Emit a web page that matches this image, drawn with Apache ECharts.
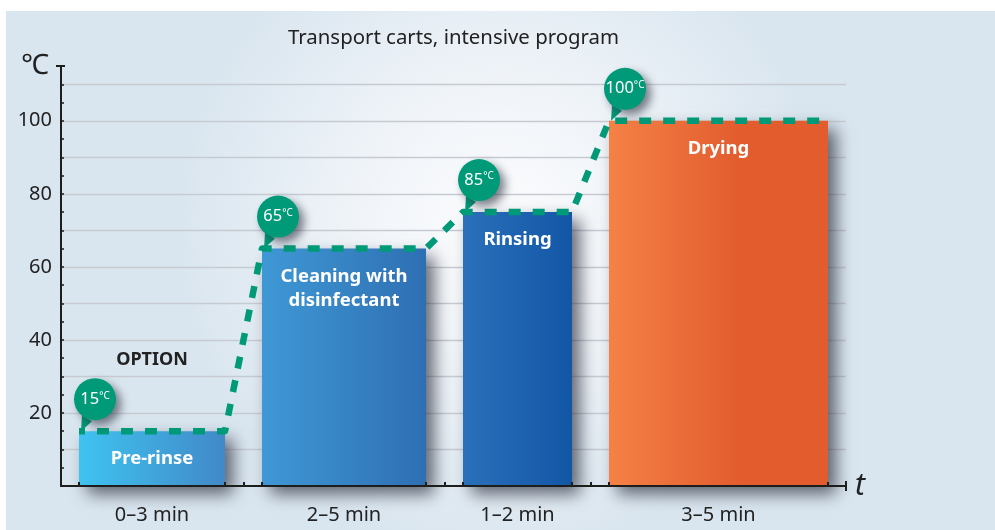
<!DOCTYPE html>
<html><head><meta charset="utf-8">
<style>html,body{margin:0;padding:0;background:#fff}#c{width:995px;height:530px}</style>
<script src="https://cdn.jsdelivr.net/npm/echarts@6/dist/echarts.min.js"></script>
</head><body><div id="c"></div>
<script>
// x positions are in the schematic units of the horizontal axis (its length is not to scale in minutes)
const xAxisMax = 785;
const yAxisMax = 115;
const phaseNames = ['Pre-rinse', 'Cleaning with\ndisinfectant', 'Rinsing', 'Drying'];
const phaseDurations = ['0–3 min', '2–5 min', '1–2 min', '3–5 min'];
const phaseStart = [18, 201, 402, 548];
const phaseEnd = [164, 365, 511, 767];
const phaseTemps = [15, 65, 75, 100];
const bubbleLabels = ['15', '65', '85', '100'];
const yTickLabels = [20, 40, 60, 80, 100];
const yTicks = [0,5,10,15,20,25,30,35,40,45,50,55,60,65,70,75,80,85,90,95,100,105,110];
const xGapTicks = [182.5, 383.5, 529.5];
const optionText = 'OPTION';
const optionAt = [91, 34.5];
const titleText = 'Transport carts, intensive program';

const barGradients = [
  ['#3fc3f0', '#4189c8'], ['#3f98d5', '#2e6fb3'], ['#2b70ba', '#1256a6'], ['#f58146', '#e25c2e']
];
const GREEN = '#009a78';
const FONT = '"Noto Sans", sans-serif';

const linePts = [];
phaseStart.forEach((s, i) => { linePts.push([s, phaseTemps[i]]); linePts.push([phaseEnd[i], phaseTemps[i]]); });
const mids = phaseStart.map((s, i) => (s + phaseEnd[i]) / 2);
const xTicks = phaseStart.concat(phaseEnd, xGapTicks).sort((a, b) => a - b);

const chart = echarts.init(document.getElementById('c'), null, {renderer: 'canvas'});
chart.setOption({
  animation: false,
  graphic: [{
    type: 'rect', z: -10, silent: true,
    shape: {x: 6, y: 11, width: 989, height: 519},
    style: {fill: {type: 'radial', x: 0.5, y: 0.42, r: 0.62, colorStops: [
      {offset: 0, color: '#fbfcfd'}, {offset: 0.35, color: '#f3f6fa'},
      {offset: 0.72, color: '#e5edf4'}, {offset: 1, color: '#dae6ef'}]}}
  }],
  title: {text: titleText, left: 283, top: 23, textStyle: {fontFamily: FONT, fontSize: 20.4, fontWeight: 'normal', color: '#222'}},
  grid: {left: 61, right: 149, top: 66, bottom: 44, containLabel: false},
  xAxis: [{
    type: 'value', min: 0, max: xAxisMax, z: 5,
    splitLine: {show: false},
    axisLine: {show: true, onZero: false, lineStyle: {color: '#1d1d1b', width: 2}},
    axisTick: {show: true, inside: true, length: 4, customValues: xTicks, lineStyle: {color: '#1d1d1b', width: 2}},
    axisLabel: {show: true, customValues: mids, margin: 19, color: '#222', fontFamily: FONT, fontSize: 20,
      formatter: v => phaseDurations[mids.indexOf(v)]},
    name: 't', nameLocation: 'end', nameGap: 9,
    nameTextStyle: {fontFamily: FONT, fontStyle: 'italic', fontSize: 30, color: '#222', verticalAlign: 'middle', padding: [8, 0, 0, 0]}
  }],
  yAxis: [{
    type: 'value', min: 0, max: yAxisMax, interval: 10, z: 0,
    axisLine: {show: false}, axisTick: {show: false}, axisLabel: {show: false},
    splitLine: {show: true, showMaxLine: false, showMinLine: false, lineStyle: {color: '#c6cbd2', width: 1.3}}
  }, {
    type: 'value', min: 0, max: yAxisMax, interval: 10, z: 5, position: 'left',
    splitLine: {show: false},
    axisLine: {show: true, onZero: false, lineStyle: {color: '#1d1d1b', width: 2}},
    axisTick: {show: true, inside: true, length: 3, customValues: yTicks, lineStyle: {color: '#1d1d1b', width: 1.5}},
    axisLabel: {show: true, customValues: yTickLabels, margin: 9, color: '#222', fontFamily: FONT, fontSize: 20},
    name: '℃', nameLocation: 'end', nameGap: 0,
    nameTextStyle: {fontFamily: FONT, fontSize: 28, color: '#222', align: 'right', verticalAlign: 'middle', padding: [0, 12, 10, 0]}
  }],
  series: [{
    type: 'custom', name: 'Phases', z: 2, silent: true, clip: false,
    coordinateSystem: 'cartesian2d', xAxisIndex: 0, yAxisIndex: 0,
    encode: {x: [0, 1], y: 2},
    data: phaseStart.map((s, i) => [s, phaseEnd[i], phaseTemps[i], i]),
    renderItem(params, api) {
      const i = api.value(3);
      const p0 = api.coord([api.value(0), api.value(2)]);
      const p1 = api.coord([api.value(1), 0]);
      const g = barGradients[i];
      return {type: 'group', children: [{
        type: 'rect',
        shape: {x: p0[0], y: p0[1], width: p1[0] - p0[0], height: p1[1] - p0[1]},
        style: {
          fill: {type: 'linear', x: 0, y: 0, x2: 1, y2: 0, colorStops: [{offset: 0, color: g[0]}, {offset: i === 3 ? 0.6 : 1, color: g[1]}, {offset: 1, color: g[1]}]},
          shadowBlur: 16, shadowOffsetX: 8, shadowOffsetY: 8, shadowColor: 'rgba(35,40,55,0.7)'
        }
      }, {
        type: 'text', z2: 5,
        style: {x: (p0[0] + p1[0]) / 2, y: p0[1] + 16, text: phaseNames[i], align: 'center', verticalAlign: 'top',
          fill: '#fff', font: 'bold 18.5px ' + FONT, lineHeight: 24}
      }]};
    }
  }, {
    type: 'line', name: 'Temperature', z: 3, silent: true, xAxisIndex: 0, yAxisIndex: 0,
    data: linePts, symbol: 'none', clip: false,
    lineStyle: {color: GREEN, width: 6.5, type: [12, 12], dashOffset: 6, join: 'round', cap: 'butt'}
  }, {
    type: 'custom', name: 'Bubbles', z: 4, silent: true, clip: false,
    coordinateSystem: 'cartesian2d', xAxisIndex: 0, yAxisIndex: 0,
    encode: {x: 0, y: 1},
    data: phaseStart.map((s, i) => [s, phaseTemps[i], i]),
    renderItem(params, api) {
      const a = api.coord([api.value(0), api.value(1)]);
      const i = api.value(2);
      const cx = a[0] + 16, cy = a[1] - 32;
      return {type: 'group', children: [{
        type: 'polygon',
        shape: {points: [[a[0] + 2, a[1]], [a[0] + 3, a[1] - 16], [a[0] + 13, a[1] - 10]]},
        style: {fill: GREEN}
      }, {
        type: 'circle', shape: {cx, cy, r: 21},
        style: {fill: GREEN, shadowBlur: 10, shadowOffsetX: 5, shadowOffsetY: 5, shadowColor: 'rgba(35,40,55,0.6)'}
      }, {
        type: 'text', z2: 5,
        style: {x: cx, y: cy, align: 'center', verticalAlign: 'middle',
          text: '{n|' + bubbleLabels[i] + '}{u|°C}',
          rich: {
            n: {fontFamily: FONT, fontSize: 16.5, fill: '#fff', color: '#fff'},
            u: {fontFamily: FONT, fontSize: 10, fill: '#fff', color: '#fff', verticalAlign: 'top', padding: [0, 0, 6, 0]}
          }}
      }]};
    }
  }, {
    type: 'custom', name: 'Annotations', z: 5, silent: true, clip: false,
    coordinateSystem: 'cartesian2d', xAxisIndex: 0, yAxisIndex: 0,
    encode: {x: 0, y: 1},
    data: [[optionAt[0], optionAt[1]]],
    renderItem(params, api) {
      const a = api.coord([api.value(0), api.value(1)]);
      const top = api.coord([0, yAxisMax]);
      const end = api.coord([xAxisMax, 0]);
      const stroke = {stroke: '#1d1d1b', lineWidth: 2};
      return {type: 'group', children: [{
        type: 'text',
        style: {x: a[0], y: a[1], text: optionText, align: 'center', verticalAlign: 'middle',
          fill: '#222', font: 'bold 18px ' + FONT}
      }, {
        type: 'line', shape: {x1: top[0] - 5, y1: top[1], x2: top[0] + 4, y2: top[1]}, style: stroke
      }, {
        type: 'line', shape: {x1: end[0], y1: end[1] - 5, x2: end[0], y2: end[1] + 5}, style: stroke
      }]};
    }
  }]
});
</script></body></html>
